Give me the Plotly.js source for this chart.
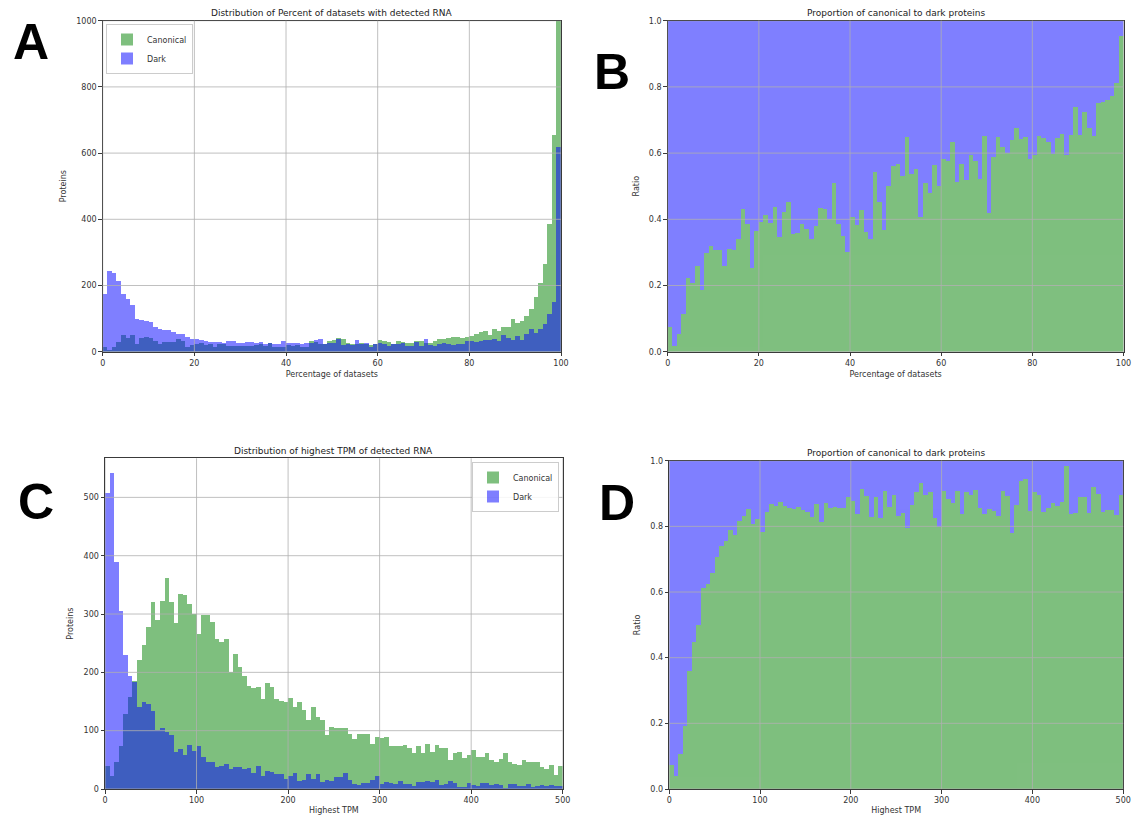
<!DOCTYPE html>
<html><head><meta charset="utf-8">
<script src="https://cdn.plot.ly/plotly-3.0.1.min.js"></script>
<style>html,body{margin:0;padding:0;background:#fff}#chart{width:1132px;height:815px}</style>
</head><body><div id="chart"></div>
<script>
// Panel A: percent of datasets with detected RNA, 100 bins of width 1 (0..100)
const pctCanonical = [14,4,13,28,50,42,50,23,41,44,
  40,33,24,30,30,30,39,33,15,21,
  24,25,20,23,15,22,22,18,18,16,
  16,16,17,21,23,16,26,14,13,14,
  19,17,19,14,13,32,29,22,22,33,
  35,42,39,27,23,24,25,23,20,23,
  35,33,30,23,32,29,25,25,33,32,
  27,27,33,37,37,40,44,43,40,45,
  47,53,60,63,50,70,63,75,75,100,
  87,93,108,130,165,207,265,387,655,13100];
const pctDark = [175,243,238,215,175,158,142,100,97,93,
  90,75,68,67,67,58,52,52,45,37,
  37,35,32,30,28,30,27,33,33,25,
  27,30,28,27,30,24,25,23,24,33,
  27,27,25,24,25,27,35,38,22,26,
  27,37,21,23,19,35,24,25,15,23,
  25,24,17,22,24,27,17,18,30,17,
  37,19,18,23,25,22,21,24,22,32,
  32,28,33,36,34,38,33,51,40,35,
  46,36,52,69,55,68,84,114,151,618];
// Panel B: proportion canonical per percent bin
const pctRatio = [0.076,0.017,0.053,0.114,0.222,0.208,0.26,0.186,0.297,0.32,
  0.307,0.308,0.259,0.31,0.307,0.342,0.431,0.385,0.252,0.364,
  0.393,0.413,0.39,0.436,0.346,0.421,0.452,0.357,0.358,0.386,
  0.371,0.342,0.38,0.433,0.431,0.40,0.51,0.385,0.35,0.30,
  0.408,0.383,0.428,0.363,0.34,0.542,0.453,0.368,0.50,0.561,
  0.566,0.532,0.648,0.537,0.552,0.408,0.509,0.479,0.564,0.50,
  0.581,0.577,0.634,0.512,0.567,0.519,0.594,0.577,0.523,0.653,
  0.418,0.589,0.648,0.617,0.60,0.64,0.677,0.643,0.65,0.581,
  0.594,0.653,0.645,0.633,0.596,0.645,0.658,0.593,0.655,0.739,
  0.655,0.723,0.677,0.652,0.751,0.754,0.759,0.773,0.813,0.954];
// Panel C: highest TPM, 100 bins of width 5 (0..500)
const tpmCanonical = [40,22,46,73,128,157,185,221,247,278,
  321,290,322,361,320,285,335,332,317,300,
  266,298,298,287,257,252,258,201,232,210,
  193,176,173,175,154,181,175,154,151,149,
  156,141,149,136,119,140,123,118,93,107,
  104,104,104,95,86,94,94,94,78,90,
  87,90,74,74,73,75,70,61,74,61,
  77,64,75,70,70,50,61,64,53,58,
  67,55,55,61,50,47,51,62,47,43,
  41,49,47,46,46,38,34,41,24,39];
const tpmDark = [507,541,389,305,229,193,183,140,149,145,
  134,102,104,97,93,64,68,58,76,65,
  73,55,46,46,37,40,43,35,38,37,
  35,36,27,40,23,31,29,26,26,18,
  22,27,14,16,25,18,26,12,15,13,
  21,20,27,15,9,7,11,10,16,23,
  9,12,11,8,14,8,8,6,12,12,
  13,12,15,7,8,14,10,4,3,10,
  7,6,10,10,7,8,7,1,9,8,
  5,6,9,4,5,7,6,7,5,5];
// Panel D: proportion canonical per TPM bin
const tpmRatio = [0.073,0.04,0.106,0.193,0.359,0.449,0.50,0.613,0.624,0.657,
  0.706,0.74,0.756,0.789,0.774,0.817,0.832,0.852,0.807,0.821,
  0.784,0.845,0.867,0.863,0.874,0.862,0.857,0.852,0.858,0.85,
  0.845,0.829,0.867,0.814,0.87,0.855,0.858,0.855,0.855,0.89,
  0.877,0.838,0.913,0.892,0.829,0.888,0.827,0.909,0.858,0.895,
  0.831,0.84,0.794,0.865,0.904,0.931,0.895,0.904,0.827,0.797,
  0.908,0.882,0.872,0.908,0.838,0.904,0.895,0.911,0.857,0.838,
  0.853,0.848,0.831,0.908,0.893,0.781,0.865,0.939,0.943,0.847,
  0.904,0.897,0.845,0.857,0.872,0.863,0.874,0.984,0.838,0.84,
  0.89,0.89,0.842,0.919,0.898,0.845,0.85,0.85,0.835,0.897];

const pctTicks = [0,20,40,60,80,100];
const tpmTicks = [0,100,200,300,400,500];
const countTicksA = [0,200,400,600,800,1000];
const countTicksC = [0,100,200,300,400,500];
const ratioTicks = [0,0.2,0.4,0.6,0.8,1.0];
const ratioTickText = ['0.0','0.2','0.4','0.6','0.8','1.0'];

const PCT_BIN = 1, TPM_BIN = 5;
const centers = (n, w) => Array.from({length: n}, (_, i) => (i + 0.5) * w);
const pctX = centers(pctCanonical.length, PCT_BIN);
const tpmX = centers(tpmCanonical.length, TPM_BIN);
const GREEN = 'rgb(0,128,0)', BLUE = 'rgb(0,0,255)';

const traces = [
  {type:'bar', x:pctX, y:pctCanonical, width:PCT_BIN, name:'Canonical', marker:{color:GREEN, line:{width:0}}, opacity:0.5, xaxis:'x', yaxis:'y', legend:'legend'},
  {type:'bar', x:pctX, y:pctDark, width:PCT_BIN, name:'Dark', marker:{color:BLUE, line:{width:0}}, opacity:0.5, xaxis:'x', yaxis:'y', legend:'legend'},
  {type:'bar', x:pctX, y:pctRatio, width:PCT_BIN, name:'Canonical', marker:{color:GREEN, line:{width:0}}, opacity:0.5, xaxis:'x2', yaxis:'y2', showlegend:false},
  {type:'bar', x:pctX, y:pctRatio.map(r => 1 - r), base:pctRatio, width:PCT_BIN, name:'Dark', marker:{color:BLUE, line:{width:0}}, opacity:0.5, xaxis:'x2', yaxis:'y2', showlegend:false},
  {type:'bar', x:tpmX, y:tpmCanonical, width:TPM_BIN, name:'Canonical', marker:{color:GREEN, line:{width:0}}, opacity:0.5, xaxis:'x3', yaxis:'y3', legend:'legend2'},
  {type:'bar', x:tpmX, y:tpmDark, width:TPM_BIN, name:'Dark', marker:{color:BLUE, line:{width:0}}, opacity:0.5, xaxis:'x3', yaxis:'y3', legend:'legend2'},
  {type:'bar', x:tpmX, y:tpmRatio, width:TPM_BIN, name:'Canonical', marker:{color:GREEN, line:{width:0}}, opacity:0.5, xaxis:'x4', yaxis:'y4', showlegend:false},
  {type:'bar', x:tpmX, y:tpmRatio.map(r => 1 - r), base:tpmRatio, width:TPM_BIN, name:'Dark', marker:{color:BLUE, line:{width:0}}, opacity:0.5, xaxis:'x4', yaxis:'y4', showlegend:false}
];

const W = 1132, H = 815;
const dx = (a, b) => [a / W, b / W];
const dy = (top, bottom) => [1 - bottom / H, 1 - top / H];
const FONT = 'DejaVu Sans, sans-serif';
const base = {
  showline:true, mirror:true, linecolor:'#3a3a3a', linewidth:1,
  ticks:'outside', ticklen:3.5, tickwidth:1, tickcolor:'#3a3a3a',
  showgrid:false, zeroline:false,
  tickfont:{family:FONT, size:8, color:'#333'}, layer:'above traces'
};
const ax = (o) => Object.assign({}, base, o);
const atitle = (t, s) => ({text:t, font:{family:FONT, size:8, color:'#333'}, standoff:s});

// grid lines drawn above the bars (as in the source figure)
const GRID = {color:'rgb(176,176,176)', width:0.8};
const gridShapes = [];
[['x','y',pctTicks,countTicksA],['x2','y2',pctTicks,ratioTicks],['x3','y3',tpmTicks,countTicksC],['x4','y4',tpmTicks,ratioTicks]]
  .forEach(([xa, ya, xt, yt]) => {
    xt.forEach(v => gridShapes.push({type:'line', layer:'above', xref:xa, yref:ya + ' domain', x0:v, x1:v, y0:0, y1:1, line:GRID}));
    yt.forEach(v => gridShapes.push({type:'line', layer:'above', xref:xa + ' domain', yref:ya, x0:0, x1:1, y0:v, y1:v, line:GRID}));
  });

const legendBase = {bgcolor:'rgba(255,255,255,0.85)', bordercolor:'#cccccc', borderwidth:1, font:{family:FONT, size:8, color:'#333'}, itemwidth:30, tracegroupgap:0};

const layout = {
  width:W, height:H, margin:{l:0, r:0, t:0, b:0},
  paper_bgcolor:'#fff', plot_bgcolor:'#fff',
  barmode:'overlay', bargap:0, showlegend:true,
  xaxis: ax({domain:dx(102.7,561), range:[0,100], tickvals:pctTicks, anchor:'y', title:atitle('Percentage of datasets',4)}),
  yaxis: ax({domain:dy(20.7,351.7), range:[0,1000], tickvals:countTicksA, anchor:'x', title:atitle('Proteins',8)}),
  xaxis2: ax({domain:dx(667.7,1123.5), range:[0,100], tickvals:pctTicks, anchor:'y2', title:atitle('Percentage of datasets',4)}),
  yaxis2: ax({domain:dy(20.7,351.7), range:[0,1], tickvals:ratioTicks, ticktext:ratioTickText, anchor:'x2', title:atitle('Ratio',8)}),
  xaxis3: ax({domain:dx(105,562.7), range:[0,500], tickvals:tpmTicks, anchor:'y3', title:atitle('Highest TPM',4)}),
  yaxis3: ax({domain:dy(458.3,789), range:[0,567], tickvals:countTicksC, anchor:'x3', title:atitle('Proteins',8)}),
  xaxis4: ax({domain:dx(669.2,1123.2), range:[0,500], tickvals:tpmTicks, anchor:'y4', title:atitle('Highest TPM',4)}),
  yaxis4: ax({domain:dy(460.7,789), range:[0,1], tickvals:ratioTicks, ticktext:ratioTickText, anchor:'x4', title:atitle('Ratio',8)}),
  legend: Object.assign({x:106/W, y:1-24/H, xanchor:'left', yanchor:'top'}, legendBase),
  legend2: Object.assign({x:559/W, y:1-462/H, xanchor:'right', yanchor:'top'}, legendBase),
  shapes: gridShapes,
  annotations: [
    {text:'Distribution of Percent of datasets with detected RNA', x:331.8/W, y:1-13/H},
    {text:'Proportion of canonical to dark proteins', x:895.6/W, y:1-13/H},
    {text:'Distribution of highest TPM of detected RNA', x:333.8/W, y:1-451/H},
    {text:'Proportion of canonical to dark proteins', x:896.2/W, y:1-453/H}
  ].map(a => Object.assign({xref:'paper', yref:'paper', showarrow:false, xanchor:'center', yanchor:'middle', font:{family:FONT, size:9, color:'#222'}}, a)).concat([
    {text:'<b>A</b>', x:31/W, y:1-42/H},
    {text:'<b>B</b>', x:612/W, y:1-72/H},
    {text:'<b>C</b>', x:36/W, y:1-502/H},
    {text:'<b>D</b>', x:617/W, y:1-503/H}
  ].map(a => Object.assign({xref:'paper', yref:'paper', showarrow:false, xanchor:'center', yanchor:'middle', font:{family:'Liberation Sans, Arial, sans-serif', size:50, color:'#000'}}, a)))
};

Plotly.newPlot('chart', traces, layout, {displayModeBar:false, staticPlot:true});
</script>
</body></html>
